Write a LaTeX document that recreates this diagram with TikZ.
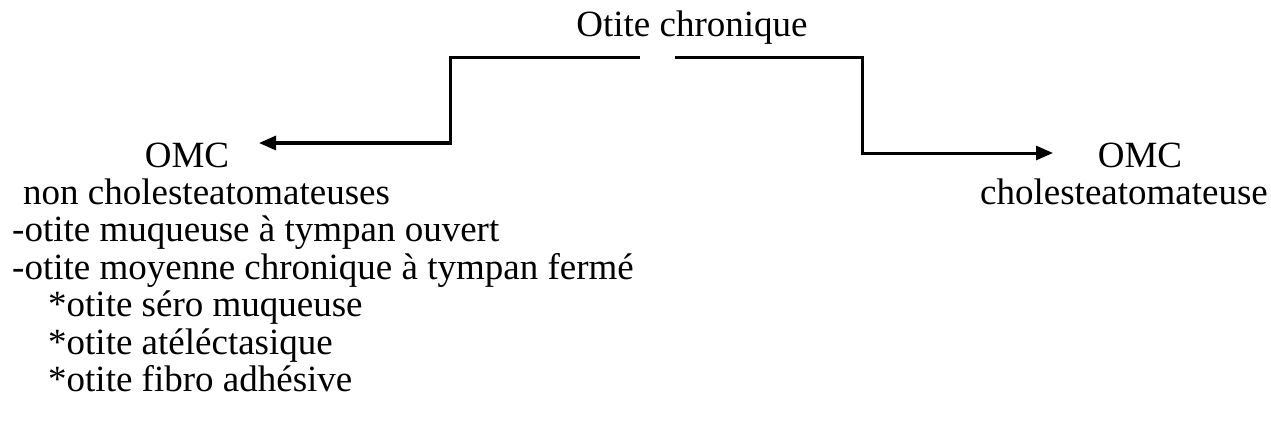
\documentclass[tikz,border=0pt]{standalone}
\usepackage{fontspec}
\setmainfont{Liberation Serif}
\usetikzlibrary{arrows.meta}
\begin{document}
\begin{tikzpicture}[x=1pt,y=-1pt,
  lbl/.style={inner sep=0pt, font=\fontsize{37}{37}\selectfont},
  conn/.style={line width=3pt, -{Triangle[length=17pt,width=14pt]}}]
\useasboundingbox (0,0) rectangle (1271,425);

% title
\node[lbl, anchor=base] (title) at (692,37) {Otite chronique};

% left branch: non-cholesteatomatous forms
\node[lbl, anchor=base] (omcL) at (187,167) {OMC};
\node[lbl, anchor=base west] (nonL) at (23,204) {non cholesteatomateuses};
\node[lbl, anchor=base west] (l1) at (12,241.5) {-otite muqueuse à tympan ouvert};
\node[lbl, anchor=base west] (l2) at (12,279) {-otite moyenne chronique à tympan fermé};
\node[lbl, anchor=base west] (l3) at (48,316.5) {*otite séro muqueuse};
\node[lbl, anchor=base west] (l4) at (48,354) {*otite atéléctasique};
\node[lbl, anchor=base west] (l5) at (48,391.5) {*otite fibro adhésive};

% right branch
\node[lbl, anchor=base] (omcR) at (1140,167) {OMC};
\node[lbl, anchor=base] (chol) at (1124,204) {cholesteatomateuse};

% connectors
\coordinate (ls) at (640,58);
\coordinate (kl) at (450,58);
\coordinate (tipL) at (259,143);
\coordinate (rs) at (675,58);
\coordinate (kr) at (862,58);
\coordinate (tipR) at (1053,153);
\draw[conn] (ls) -- (kl) |- (tipL);
\draw[conn] (rs) -- (kr) |- (tipR);
\end{tikzpicture}
\end{document}
